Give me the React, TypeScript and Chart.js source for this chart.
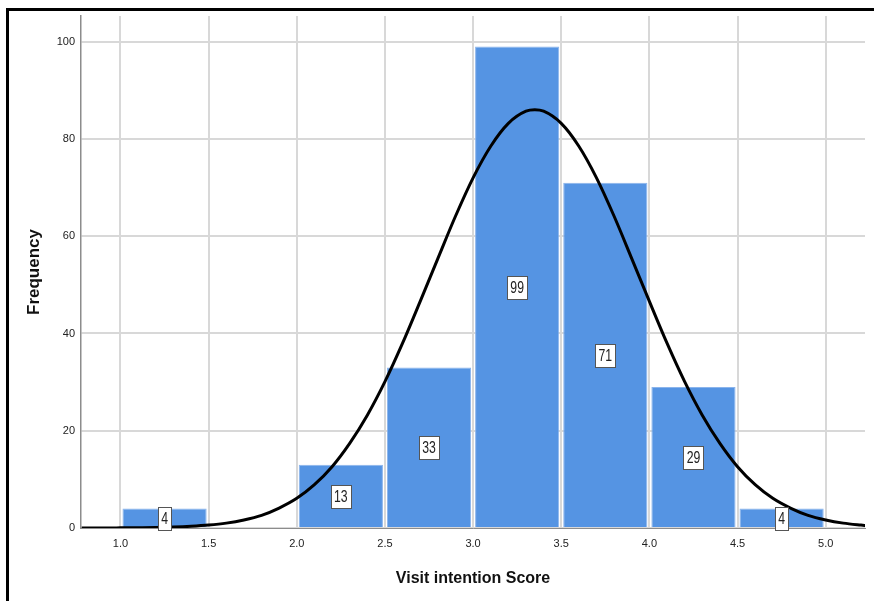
import React, { useEffect, useRef } from 'react';
import { Chart, registerables } from 'chart.js';

Chart.register(...registerables);

// ---- data ----
const binStarts = [1.0, 1.5, 2.0, 2.5, 3.0, 3.5, 4.0, 4.5];
const binWidth = 0.5;
const frequencies = [4, 0, 13, 33, 99, 71, 29, 4];

const curveX = [
  0.78, 0.8, 0.9, 1.0, 1.1, 1.2, 1.3, 1.4, 1.5, 1.6, 1.7, 1.8, 1.9, 2.0, 2.1, 2.2, 2.3, 2.4,
  2.5, 2.6, 2.7, 2.8, 2.9, 3.0, 3.1, 3.2, 3.3, 3.35, 3.4, 3.5, 3.6, 3.7, 3.8, 3.9, 4.0, 4.1,
  4.2, 4.3, 4.4, 4.5, 4.6, 4.7, 4.8, 4.9, 5.0, 5.1, 5.2, 5.23,
];
const curveY = [
  0.01, 0.01, 0.01, 0.03, 0.06, 0.1, 0.19, 0.35, 0.6, 1.0, 1.65, 2.6, 4.1, 6.1, 8.9, 12.6, 17.4, 23.2,
  30.1, 38.0, 46.6, 55.4, 64.1, 72.0, 78.5, 83.2, 85.7, 86.0, 85.7, 83.2, 78.5, 72.0, 64.1, 55.4, 46.6, 38.0,
  30.1, 23.2, 17.4, 12.6, 8.9, 6.1, 4.1, 2.6, 1.65, 1.0, 0.6, 0.5,
];

const xTickValues = [1.0, 1.5, 2.0, 2.5, 3.0, 3.5, 4.0, 4.5, 5.0];
const yTickValues = [0, 20, 40, 60, 80, 100];
const xMin = 0.776;
const xMax = 5.223;
const yMin = 0;
const yMax = 105.28;
const xTitle = 'Visit intention Score';
const yTitle = 'Frequency';

const FONT = '"Liberation Sans", Arial, Helvetica, sans-serif';

const labelPlugin = {
  id: 'barValueLabels',
  afterDatasetsDraw(chart: any) {
    const meta = chart.getDatasetMeta(1);
    const ys = chart.scales.y;
    const ctx = chart.ctx;
    ctx.save();
    ctx.font = '17px ' + FONT;
    meta.data.forEach((el: any, i: number) => {
      const v = frequencies[i];
      if (!v) return;
      const cx = el.x;
      const cy = ys.getPixelForValue(v / 2);
      const txt = String(v);
      const sx = 0.72;
      const tw = ctx.measureText(txt).width * sx;
      const w = Math.round(tw + 6);
      const h = 23;
      const x0 = Math.round(cx - w / 2) + 0.5;
      const y0 = Math.round(cy - h / 2) + 0.5;
      ctx.fillStyle = '#ffffff';
      ctx.fillRect(x0, y0, w, h);
      ctx.strokeStyle = '#555555';
      ctx.lineWidth = 1;
      ctx.strokeRect(x0, y0, w, h);
      ctx.save();
      ctx.translate(cx, cy);
      ctx.scale(sx, 1);
      ctx.fillStyle = '#222222';
      ctx.textAlign = 'center';
      ctx.textBaseline = 'middle';
      ctx.fillText(txt, 0, 1);
      ctx.restore();
    });
    ctx.restore();
  },
};

export default function App() {
  const canvasRef = useRef<HTMLCanvasElement | null>(null);

  useEffect(() => {
    const canvas = canvasRef.current;
    if (!canvas) return;

    const barData = binStarts.map((s, i) => ({ x: s + binWidth / 2, y: frequencies[i] }));
    const lineData = curveX.map((x, i) => ({ x, y: curveY[i] }));

    const chart = new Chart(canvas, {
      type: 'bar',
      data: {
        datasets: [
          {
            type: 'line',
            data: lineData,
            borderColor: '#000000',
            borderWidth: 3,
            pointRadius: 0,
            fill: false,
            cubicInterpolationMode: 'monotone',
            order: 0,
          } as any,
          {
            type: 'bar',
            data: barData,
            backgroundColor: '#5594e3',
            borderColor: '#8ab4ec',
            borderWidth: 1,
            categoryPercentage: 0.955,
            barPercentage: 1,
            order: 1,
          } as any,
        ],
      },
      options: {
        responsive: false,
        animation: false,
        devicePixelRatio: 1,
        layout: { padding: { left: 20, top: 16, right: 9, bottom: 0 } },
        plugins: {
          legend: { display: false },
          tooltip: { enabled: false },
        },
        scales: {
          x: {
            type: 'linear',
            min: xMin,
            max: xMax,
            offset: false,
            afterFit: (scale: any) => {
              scale.height = 73;
            },
            afterBuildTicks: (scale: any) => {
              scale.ticks = xTickValues.map((v) => ({ value: v }));
            },
            ticks: {
              padding: 9,
              color: '#222222',
              font: { family: FONT, size: 11 },
              callback: (v: any) => Number(v).toFixed(1),
              maxRotation: 0,
              autoSkip: false,
            },
            grid: { color: '#d8d8d8', lineWidth: 2, drawTicks: false, offset: false },
            border: { display: true, color: '#8c8c8c', width: 1 },
            title: {
              display: true,
              text: xTitle,
              color: '#111111',
              font: { family: FONT, size: 16, weight: 'bold' },
              padding: { top: 0, bottom: 13 },
            },
          },
          y: {
            type: 'linear',
            min: yMin,
            max: yMax,
            afterFit: (scale: any) => {
              scale.width = 61;
            },
            afterBuildTicks: (scale: any) => {
              scale.ticks = yTickValues.map((v) => ({ value: v }));
            },
            ticks: {
              padding: 6,
              color: '#222222',
              font: { family: FONT, size: 11 },
            },
            grid: { color: '#d8d8d8', lineWidth: 2, drawTicks: false },
            border: { display: true, color: '#8c8c8c', width: 1.5 },
            title: {
              display: true,
              text: yTitle,
              color: '#111111',
              font: { family: FONT, size: 17, weight: 'bold' },
              padding: { top: 4, bottom: 0 },
            },
          },
        },
      },
      plugins: [labelPlugin],
    } as any);

    return () => {
      chart.destroy();
    };
  }, []);

  return (
    <div style={{ position: 'fixed', left: 0, top: 0, width: 874, height: 601, background: '#ffffff' }}>
      <canvas ref={canvasRef} width={874} height={601} style={{ position: 'absolute', left: 0, top: 0, width: 874, height: 601 }} />
      <div
        style={{
          position: 'absolute',
          left: 6,
          top: 8,
          width: 868,
          height: 593,
          borderLeft: '3px solid #000',
          borderTop: '3px solid #000',
          boxSizing: 'border-box',
          pointerEvents: 'none',
        }}
      />
    </div>
  );
}
